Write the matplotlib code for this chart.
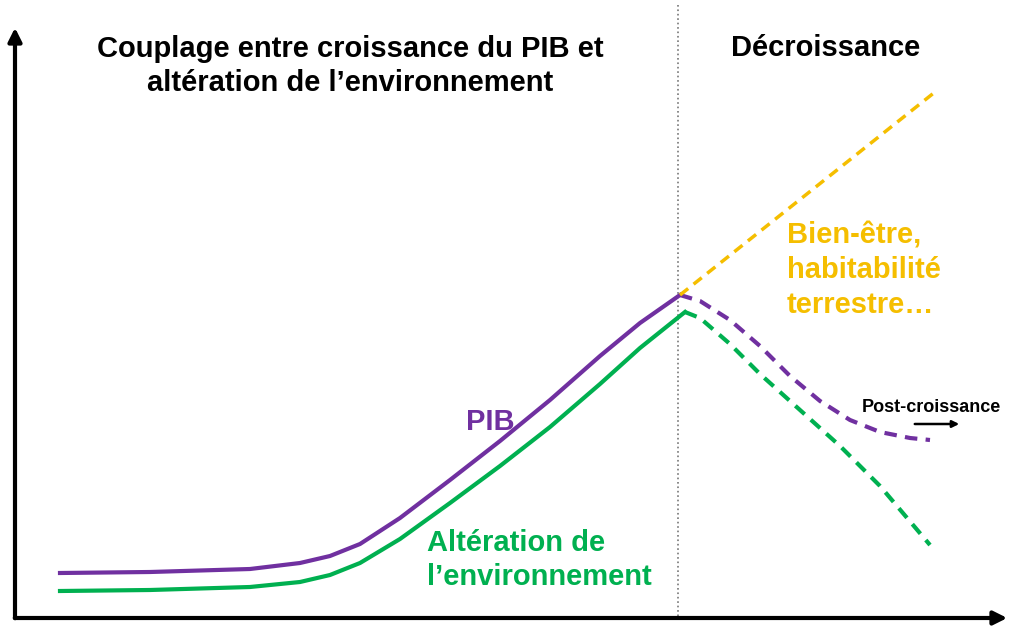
import matplotlib
matplotlib.use("Agg")
import matplotlib.pyplot as plt

purple = "#7030A0"; green = "#00B050"; yellow = "#F5BE00"

pib_x = [60, 150, 250, 300, 330, 360, 400, 450, 500, 550, 600, 640, 680]
pib_y = [573, 572, 569, 563, 556, 544, 518, 480, 441, 400, 356, 323, 295]
pib_dx = [680, 700, 730, 760, 790, 820, 850, 880, 910, 930]
pib_dy = [295, 301, 320, 346, 376, 401, 420, 432, 438, 440]
env_x = [60, 150, 250, 300, 330, 360, 400, 450, 500, 550, 600, 640, 685]
env_y = [591, 590, 587, 582, 575, 563, 539, 503, 466, 427, 384, 348, 312]
env_dx = [685, 700, 730, 760, 800, 840, 880, 930]
env_dy = [312, 318, 344, 374, 410, 446, 486, 545]
bien_x = [680, 935]
bien_y = [295, 92]

fig = plt.figure(figsize=(10.24, 6.34), dpi=100)
ax = fig.add_axes([0, 0, 1, 1])
ax.set_xlim(0, 1024); ax.set_ylim(634, 0); ax.axis("off")

ax.annotate("", xy=(1010, 618), xytext=(12, 618),
            arrowprops=dict(arrowstyle="-|>", lw=3, color="black", mutation_scale=20))
ax.annotate("", xy=(15, 25), xytext=(15, 621),
            arrowprops=dict(arrowstyle="-|>", lw=3, color="black", mutation_scale=20))
ax.plot([678, 678], [5, 618], ls=":", color="#777777", lw=1.2)

kw = dict(lw=3, solid_joinstyle="round", dash_joinstyle="round")
ax.plot(pib_x, pib_y, color=purple, **kw)
ax.plot(pib_dx, pib_dy, color=purple, ls=(0, (3, 2)), **kw)
ax.plot(env_x, env_y, color=green, **kw)
ax.plot(env_dx, env_dy, color=green, ls=(0, (3, 2)), **kw)
ax.plot(bien_x, bien_y, color=yellow, lw=2.5, ls=(0, (3, 2)))

f = dict(family="Liberation Sans", weight="bold")
ax.text(350, 66, "Couplage entre croissance du PIB et\naltération de l’environnement",
        ha="center", va="center", fontsize=21, linespacing=1.3, **f)
ax.text(826, 48, "Décroissance", ha="center", va="center", fontsize=21, **f)
ax.text(787, 270, "Bien-être,\nhabitabilité\nterrestre…", ha="left", va="center",
        fontsize=21, color=yellow, linespacing=1.3, **f)
ax.text(490, 422, "PIB", ha="center", va="center", fontsize=21, color=purple, **f)
ax.text(427, 560, "Altération de\nl’environnement", ha="left", va="center",
        fontsize=21, color=green, linespacing=1.3, **f)
ax.text(862, 407, "Post-croissance", ha="left", va="center", fontsize=13, **f)
ax.annotate("", xy=(962, 424), xytext=(912, 424),
            arrowprops=dict(arrowstyle="-|>", lw=1.8, color="black"))

fig.savefig("out.png", dpi=100)
